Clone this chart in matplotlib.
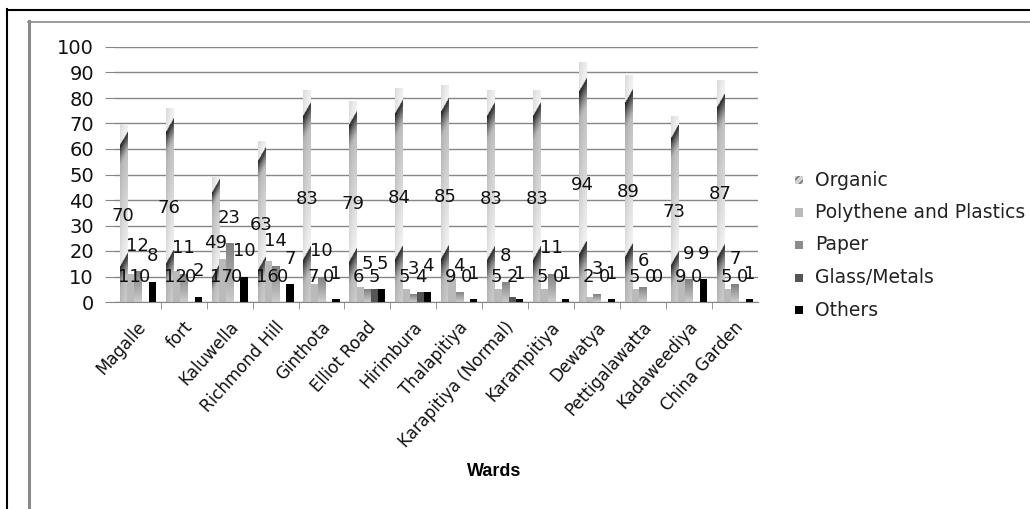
import numpy as np
import matplotlib
matplotlib.use('Agg')
import matplotlib.pyplot as plt
import matplotlib.transforms as mtransforms
from matplotlib.patches import Rectangle
from matplotlib.lines import Line2D

# waste composition (%) per ward
wards = ['Magalle', 'fort', 'Kaluwella', 'Richmond Hill', 'Ginthota', 'Elliot Road',
         'Hirimbura', 'Thalapitiya', 'Karapitiya (Normal)', 'Karampitiya', 'Dewatya',
         'Pettigalawatta', 'Kadaweediya', 'China Garden']
organic = [70, 76, 49, 63, 83, 79, 84, 85, 83, 83, 94, 89, 73, 87]
plastics = [11, 12, 17, 16, 7, 6, 5, 9, 5, 5, 2, 5, 9, 5]
paper = [12, 11, 23, 14, 10, 5, 3, 4, 8, 11, 3, 6, 9, 7]
glass = [0, 0, 0, 0, 0, 5, 4, 0, 2, 0, 0, 0, 0, 0]
others = [8, 2, 10, 7, 1, 5, 4, 1, 1, 1, 1, 0, 9, 1]
series_names = ['Organic', 'Polythene and Plastics', 'Paper', 'Glass/Metals', 'Others']
series = [organic, plastics, paper, glass, others]

W, H = 1030, 509
fig = plt.figure(figsize=(W / 100, H / 100), dpi=100)
ax = fig.add_axes([114.8 / W, (H - 302) / H, 643 / W, 255 / H])

x = np.arange(len(wards))
bw = 0.157
px_per_unit = 2.55


def fill_image(patch, img):
    x0, y0 = patch.get_x(), patch.get_y()
    w, h = patch.get_width(), patch.get_height()
    if h <= 0:
        return
    im = ax.imshow(img, extent=(x0, x0 + w, y0, y0 + h), origin='lower', aspect='auto',
                   cmap='gray', vmin=0, vmax=1, interpolation='bilinear', zorder=2)
    im.set_clip_path(patch)


def organic_img(v):
    # stretched diagonal stripe pattern, as in the spreadsheet fill
    hpx = v * px_per_unit
    f = np.linspace(0, 1, 300)[:, None]
    u = np.linspace(0, 1, 12)[None, :]
    p = (f * hpx - 13 * u) / (0.68 * hpx) + 0.706
    t = p - np.floor(p)
    light = 0.95 - 0.2 * t / 0.82
    band = 0.75 - 0.6 * ((t - 0.82) / 0.18) ** 1.3
    img = np.where(t > 0.82, band, light)
    img = img - 0.06 * (1 - u) ** 2
    return np.clip(img, 0, 1)


def paper_img(v):
    f = np.linspace(0, 1, 100)[:, None]
    u = np.linspace(0, 1, 8)[None, :]
    return 0.8 - 0.3 * f + 0.0 * u


colors = ['none', '#bababa', 'none', '#555555', '#000000']
for i, vals in enumerate(series):
    bars = ax.bar(x + (i - 2) * bw, vals, bw, color=colors[i], linewidth=0, zorder=2)
    if i == 0:
        for b, v in zip(bars, vals):
            fill_image(b, organic_img(v))
    if i == 2:
        for b, v in zip(bars, vals):
            fill_image(b, paper_img(v))

# data labels
lab_kw = dict(fontsize=13, color='#111111', ha='center', va='center', zorder=5)
for j in range(len(wards)):
    ax.text(x[j] - 2 * bw, organic[j] / 2 - 1.2, str(organic[j]), **lab_kw)
    ax.text(x[j] - bw - 0.03, 10, str(plastics[j]), **lab_kw)
    ax.text(x[j], paper[j] + 10, str(paper[j]), **lab_kw)
    ax.text(x[j] + bw, 10, str(glass[j]), **lab_kw)
    ax.text(x[j] + 2 * bw, others[j] + 10, str(others[j]), **lab_kw)

ax.set_xlim(-0.5, len(wards) - 0.5)
ax.set_ylim(0, 100)
ax.set_yticks(range(0, 101, 10))
ax.yaxis.grid(True, color='#868686', linewidth=1)
ax.set_axisbelow(True)
for s in ['left', 'top', 'right']:
    ax.spines[s].set_visible(False)
ax.spines['bottom'].set_color('#868686')
ax.spines['bottom'].set_zorder(3)
ax.tick_params(axis='y', length=7, color='#868686', labelsize=14, pad=8, labelcolor='#111111')

ax.set_xticks(x)
ax.set_xticks(np.arange(0.5, len(wards) - 1, 1), minor=True)
ax.tick_params(axis='x', which='major', length=0, pad=16)
ax.tick_params(axis='x', which='minor', length=5, color='#868686')
ax.set_xticklabels(wards, rotation=48, ha='right', va='center', rotation_mode='anchor',
                   fontsize=12, color='#111111')
shift = mtransforms.ScaledTranslation(4 / 72, 0, fig.dpi_scale_trans)
for lbl in ax.get_xticklabels():
    lbl.set_transform(lbl.get_transform() + shift)

fig.text(494 / W, 1 - 471 / H, 'Wards', fontsize=13, fontweight='bold',
         family='Liberation Sans', ha='center', va='center')

# legend
plt.rcParams['hatch.linewidth'] = 1.2
leg_face = ['#d4d4d4', '#bababa', '#8c8c8c', '#555555', '#000000']
for i, name in enumerate(series_names):
    yc = 180 + 32.5 * i
    r = Rectangle((795 / W, 1 - (yc + 4) / H), 8 / W, 8 / H, transform=fig.transFigure,
                  facecolor=leg_face[i], edgecolor='#7a7a7a' if i == 0 else leg_face[i],
                  hatch='////' if i == 0 else None, linewidth=0)
    fig.patches.append(r)
    fig.text(815 / W, 1 - yc / H, name, fontsize=13.5, color='#222222', va='center', ha='left')

# chart frames
fig.lines.append(Line2D([7 / W, 7 / W], [0, 1 - 9 / H], transform=fig.transFigure,
                        color='black', linewidth=1.5))
fig.lines.append(Line2D([7 / W, 1], [1 - 9.5 / H, 1 - 9.5 / H], transform=fig.transFigure,
                        color='black', linewidth=1.5))
fig.lines.append(Line2D([28.5 / W, 28.5 / W], [0, 1 - 21 / H], transform=fig.transFigure,
                        color='#8a8a8a', linewidth=2.2))
fig.lines.append(Line2D([28 / W, 1], [1 - 21.5 / H, 1 - 21.5 / H], transform=fig.transFigure,
                        color='#8a8a8a', linewidth=1.2))

fig.savefig('out.png', dpi=100)
